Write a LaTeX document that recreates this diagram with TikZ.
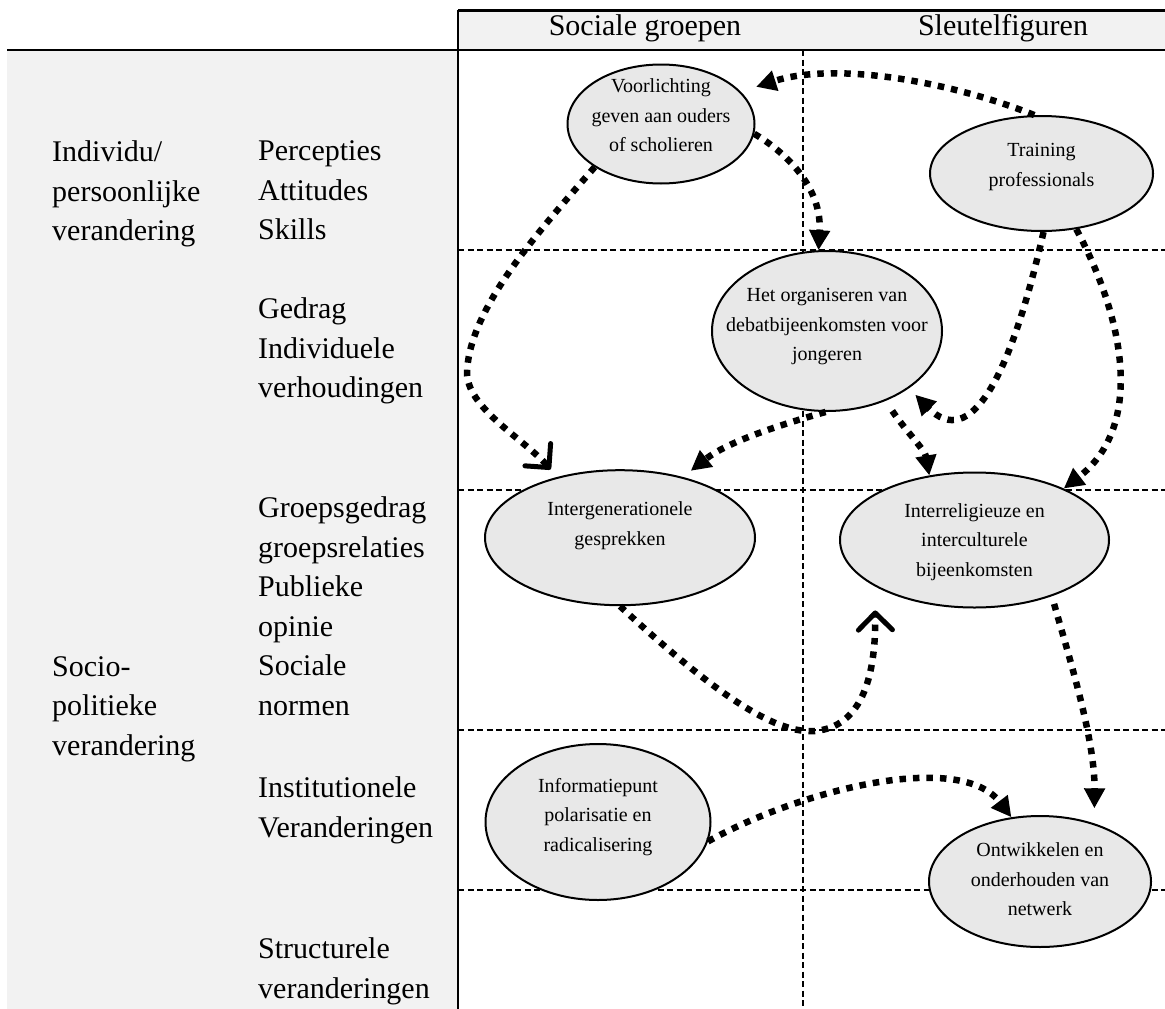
\documentclass[tikz,border=0pt]{standalone}
\usepackage{fontspec}
\setmainfont{Liberation Serif}
\usetikzlibrary{arrows.meta,shapes.geometric}
\tikzstyle{hdrtext}=[font=\fontsize{30}{36}\selectfont, anchor=base, inner sep=0pt]
\tikzstyle{rowtext}=[font=\fontsize{30}{39.5}\selectfont, align=left,
                     anchor=north west, inner sep=0pt]
\tikzstyle{act}=[ellipse, draw=black, line width=2pt, fill=black!9, inner sep=0pt]
\tikzstyle{acttxt}=[font=\fontsize{20}{29.5}\selectfont, align=center, inner sep=0pt]
\tikzstyle{gridline}=[line width=1.5pt, dash pattern=on 6pt off 3.5pt]
\tikzstyle{flow}=[line width=6.5pt, dash pattern=on 6.5pt off 7pt,
                  -{Triangle[length=20pt,width=20pt]}]
\tikzstyle{flowv}=[line width=6.5pt, dash pattern=on 6.5pt off 7pt,
                   -{Straight Barb[length=17pt,width=34pt,line width=5pt,round]}]
\begin{document}
\begin{tikzpicture}[x=1pt,y=-1pt]
\useasboundingbox (0,0) rectangle (1165,1009);

% panels
\fill[black!5] (7,50) rectangle (458,1009);
\fill[black!5] (458,10) rectangle (1165,50);
\draw[gridline] (458,250) -- (1165,250);
\draw[gridline] (458,490) -- (1165,490);
\draw[gridline] (458,730) -- (1165,730);
\draw[gridline] (458,890) -- (1165,890);
\draw[gridline] (803,50) -- (803,1009);
\draw[line width=3pt] (458,10) -- (1165,10);
\draw[line width=2pt] (7,50) -- (1165,50);
\draw[line width=2.5pt] (458,10) -- (458,1009);

\node (SG) [hdrtext] at (645,35) {Sociale groepen};
\node (SF) [hdrtext] at (1003,35) {Sleutelfiguren};

\node (IND) [rowtext] at (52,140.5) {Individu/\\persoonlijke\\verandering};
\node (PAS) [rowtext] at (258,140.5) {Percepties\\Attitudes\\Skills};
\node (GED) [rowtext] at (258,297.5) {Gedrag\\Individuele\\verhoudingen};
\node (GRP) [rowtext] at (258,496.5) {Groepsgedrag\\groepsrelaties\\Publieke\\opinie\\Sociale\\normen};
\node (SOC) [rowtext] at (52,656) {Socio-\\politieke\\verandering};
\node (INS) [rowtext] at (258,776.5) {Institutionele\\Veranderingen};
\node (STR) [rowtext] at (258,937.5) {Structurele\\veranderingen};

\node (VL) [act, minimum width=187, minimum height=119,
  label={[acttxt,yshift=8.5pt]center:Voorlichting\\geven aan ouders\\of scholieren}] at (661,124) {};
\node (TR) [act, minimum width=223, minimum height=115,
  label={[acttxt,yshift=6.5pt]center:Training\\professionals}] at (1041.5,173.5) {};
\node (HO) [act, minimum width=230, minimum height=160,
  label={[acttxt,yshift=4pt]center:Het organiseren van\\debatbijeenkomsten voor\\jongeren}] at (827,331) {};
\node (IG) [act, minimum width=270, minimum height=135,
  label={[acttxt,yshift=12pt]center:Intergenerationele\\gesprekken}] at (620,537.7) {};
\node (IR) [act, minimum width=269, minimum height=135,
  label={[acttxt,yshift=-2pt]center:Interreligieuze en\\interculturele\\bijeenkomsten}] at (974.5,540) {};
\node (IP) [act, minimum width=225, minimum height=156,
  label={[acttxt,yshift=5pt]center:Informatiepunt\\polarisatie en\\radicalisering}] at (598,822) {};
\node (OW) [act, minimum width=222, minimum height=131,
  label={[acttxt,yshift=2pt]center:Ontwikkelen en\\onderhouden van\\netwerk}] at (1040,881.5) {};

% connectors
\draw[flow, shorten >=16pt] (TR.97) .. controls (960,85) and (840,60) .. (VL.22);
\draw[flow] (VL.-6) .. controls (790,155) and (822,190) .. (HO.96);
\draw[flowv, shorten >=10pt] (VL.213) .. controls (540,230) and (467,310) .. (467,375)
  .. controls (470,410) and (525,440) .. (IG.136);
\draw[flow, shorten >=10pt] (HO.269) .. controls (790,422) and (730,440) .. (IG.44);
\draw[flow, shorten <=12pt] (HO.-50) .. controls (905,430) and (925,450) .. (IR.125);
\draw[flow, shorten >=9pt] (TR.272) .. controls (1010,380) and (970,450) .. (HO.-35);
\draw[flow] (TR.-58) .. controls (1130,330) and (1140,430) .. (IR.30);
\draw[flowv, shorten >=24pt] (IG.270) .. controls (700,680) and (770,735) .. (815,731)
  .. controls (860,727) and (876,680) .. (IR.205);
\draw[flow, shorten <=8pt, shorten >=15pt] (IR.-36) .. controls (1070,660) and (1095,740) .. (OW.47);
\draw[flow] (IP.-10) .. controls (800,790) and (960,750) .. (OW.114);

\end{tikzpicture}
\end{document}
